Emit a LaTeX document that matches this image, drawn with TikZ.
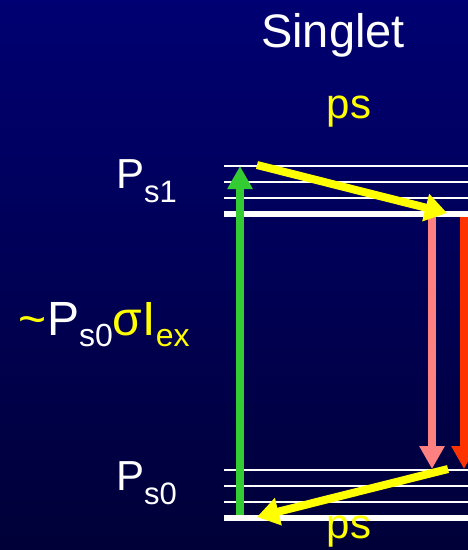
\documentclass[tikz,border=0pt]{standalone}
\usepackage{fontspec}
\setmainfont{Liberation Sans}
\usetikzlibrary{arrows.meta}
\definecolor{bgtop}{RGB}{0,0,114}
\definecolor{bgbot}{RGB}{0,0,56}
\definecolor{lgreen}{RGB}{51,204,51}
\definecolor{lpink}{RGB}{255,128,128}
\definecolor{lred}{RGB}{255,51,0}
\definecolor{lyellow}{RGB}{255,255,0}
\tikzset{
  thinlevel/.style={draw=white,line width=2pt},
  thicklevel/.style={draw=white,line width=5.5pt},
  bigarrow/.style={line width=8pt,-{Triangle[length=23pt,width=24pt]}},
  yarrow/.style={draw=lyellow,line width=8pt,-{Triangle[length=22pt,width=27pt]}},
  lbl/.style={inner sep=0pt,outer sep=0pt,anchor=base west,text=white},
}
\newcommand{\bigf}{\fontsize{42}{42}\selectfont}
\newcommand{\subf}{\fontsize{31}{31}\selectfont}
\newcommand{\ratef}{\fontsize{48}{48}\selectfont}
\newcommand{\ratesubf}{\fontsize{32}{32}\selectfont}
\begin{document}
\begin{tikzpicture}[x=1pt,y=-1pt]
\shade[top color=bgtop,bottom color=bgbot] (0,0) rectangle (468,550);
\useasboundingbox (0,0) rectangle (468,550);

% levels
\foreach \y in {165.7,181.7,197.7,470,485.7,501.7}
  \draw[thinlevel] (224,\y) -- (468,\y);
\draw[thicklevel] (224,214) -- (468,214);
\draw[thicklevel] (224,518) -- (468,518);

% coordinates
\coordinate (gS) at (240,515);
\coordinate (gE) at (240,166);
\coordinate (ytS) at (257,165);
\coordinate (ytE) at (447,213);
\coordinate (pS) at (432,217);
\coordinate (pE) at (432,469);
\coordinate (rS) at (464,217);
\coordinate (rE) at (464,469);
\coordinate (ybS) at (448,469);
\coordinate (ybE) at (257,517);

\draw[bigarrow,draw=lgreen,fill=lgreen] (gS) -- (gE);
\draw[bigarrow,draw=lpink] (pS) -- (pE);
\draw[bigarrow,draw=lred] (rS) -- (rE);
\draw[yarrow] (ytS) -- (ytE);
\draw[yarrow] (ybS) -- (ybE);

% labels
\node[inner sep=0pt,anchor=base,text=white] (singlet) at (333,47) {\fontsize{47}{47}\selectfont Singlet};
\node[inner sep=0pt,anchor=base,text=lyellow] (pstop) at (349,118) {\bigf ps};
\node[inner sep=0pt,anchor=base,text=lyellow] (psbot) at (349,538) {\bigf ps};
\node[lbl] (ps1) at (116,188) {\bigf P\raisebox{-14pt}{\subf s1}};
\node[lbl] (ps0) at (116,490) {\bigf P\raisebox{-14pt}{\subf s0}};
\node[lbl] (rate) at (19,335) {\ratef\textcolor{lyellow}{\char"007E}P\raisebox{-11pt}{\ratesubf s0}\textcolor{lyellow}{σI\raisebox{-11pt}{\ratesubf ex}}};
\end{tikzpicture}
\end{document}
